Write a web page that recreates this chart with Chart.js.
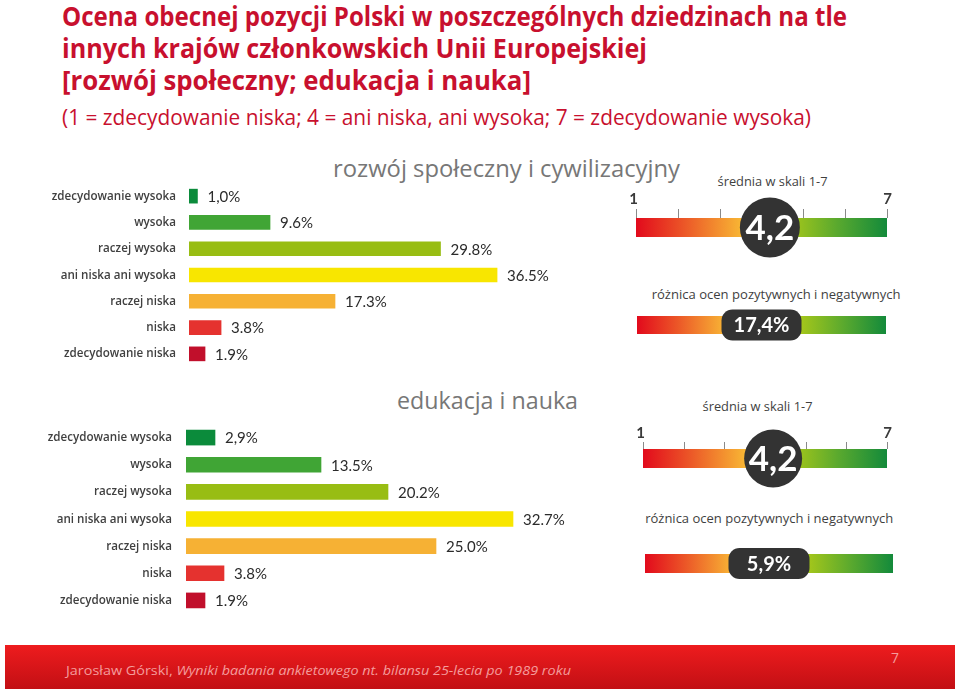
<!DOCTYPE html>
<html><head><meta charset="utf-8">
<script src="https://cdn.jsdelivr.net/npm/chart.js@4.4.1/dist/chart.umd.min.js"></script>
<style>
html,body{margin:0;padding:0;background:#fff;}
#page{position:relative;width:960px;height:691px;overflow:hidden;background:#fff;}
.t{position:absolute;white-space:nowrap;line-height:1;}
.l{transform-origin:0 50%;}
.c{transform-origin:50% 50%;}
canvas{position:absolute;}
#band{position:absolute;left:5px;top:645px;width:950px;height:44px;background:linear-gradient(#ee1c1e,#c20f14);}
</style></head>
<body><div id="page">
<div class="t l" data-x="62" data-y="16" data-w="785" style="font:700 26px 'Open Sans';color:#c8102e">Ocena obecnej pozycji Polski w poszczególnych dziedzinach na tle</div>
<div class="t l" data-x="62" data-y="48" data-w="585" style="font:700 26px 'Open Sans';color:#c8102e">innych krajów członkowskich Unii Europejskiej</div>
<div class="t l" data-x="62" data-y="80" data-w="469" style="font:700 26px 'Open Sans';color:#c8102e">[rozwój społeczny; edukacja i nauka]</div>
<div class="t l" data-x="62" data-y="116" data-w="749" style="font:400 22px 'Open Sans';color:#c8102e">(1 = zdecydowanie niska; 4 = ani niska, ani wysoka; 7 = zdecydowanie wysoka)</div>
<div class="t l" data-x="333" data-y="167" data-w="347" style="font:400 24px 'Open Sans';color:#777777">rozwój społeczny i cywilizacyjny</div>
<div class="t l" data-x="397" data-y="399" data-w="181" style="font:400 24px 'Open Sans';color:#777777">edukacja i nauka</div>
<div class="t c" data-cx="773" data-y="181" data-w="110" style="font:400 12.5px 'Open Sans';color:#3f3f3f">średnia w skali 1-7</div>
<div class="t c" data-cx="776" data-y="294" data-w="249" style="font:400 12.5px 'Open Sans';color:#3f3f3f">różnica ocen pozytywnych i negatywnych</div>
<div class="t c" data-cx="758" data-y="406" data-w="110" style="font:400 12.5px 'Open Sans';color:#3f3f3f">średnia w skali 1-7</div>
<div class="t c" data-cx="769" data-y="518" data-w="248" style="font:400 12.5px 'Open Sans';color:#3f3f3f">różnica ocen pozytywnych i negatywnych</div>
<canvas id="cSocial" width="560" height="184" style="left:0;top:183px"></canvas>
<canvas id="cEdu" width="580" height="190" style="left:0;top:424px"></canvas>
<canvas id="gSocialMean" width="320" height="80" style="left:600px;top:185px"></canvas>
<canvas id="gSocialDiff" width="320" height="50" style="left:600px;top:300px"></canvas>
<canvas id="gEduMean" width="320" height="80" style="left:600px;top:415px"></canvas>
<canvas id="gEduDiff" width="320" height="50" style="left:600px;top:538px"></canvas>
<div id="band"></div>
<div class="t l" data-x="66" data-y="670" data-w="505" style="font:400 13px 'Open Sans';color:#f49c9c">Jarosław Górski, <i>Wyniki badania ankietowego nt. bilansu 25-lecia po 1989 roku</i></div>
<div class="t l" data-x="891" data-y="657" style="font:400 14px 'Open Sans';color:#f49c9c">7</div>
</div>
<script>
const categories = ['zdecydowanie wysoka','wysoka','raczej wysoka','ani niska ani wysoka','raczej niska','niska','zdecydowanie niska'];
const socialValues = [1.0, 9.6, 29.8, 36.5, 17.3, 3.8, 1.9];
const socialLabels = ['1,0%','9.6%','29.8%','36.5%','17.3%','3.8%','1.9%'];
const eduValues = [2.9, 13.5, 20.2, 32.7, 25.0, 3.8, 1.9];
const eduLabels = ['2,9%','13.5%','20.2%','32.7%','25.0%','3.8%','1.9%'];
const barColors = ['#0b8b3b','#40a535','#98bd13','#f8e600','#f6b134','#e5322f','#c10f2b'];
const scaleTicks = [1,2,3,4,5,6,7];
const scaleEndLabels = {1:'1', 7:'7'};
const socialMean = 4.2, socialMeanLabel = '4,2', socialDiffLabel = '17,4%';
const eduMean = 4.2, eduMeanLabel = '4,2', eduDiffLabel = '5,9%';

// text placement
document.querySelectorAll('.t').forEach(el=>{
  const w = el.getBoundingClientRect().width;
  const k = el.dataset.w ? (+el.dataset.w)/w : 1;
  if (el.classList.contains('c')) {
    el.style.left = (+el.dataset.cx - w/2)+'px';
  } else {
    el.style.left = el.dataset.x+'px';
  }
  el.style.top = (+el.dataset.y)+'px';
  el.style.transform = 'translateY(-50%) scaleX('+k+')';
});

function barChart(id, values, labels, o){
  return new Chart(document.getElementById(id), {
    type:'bar',
    data:{labels:categories, datasets:[{data:values, backgroundColor:barColors, barThickness:o.thick, borderWidth:0}]},
    options:{
      indexAxis:'y', responsive:false, animation:false, events:[],
      layout:{padding:{left:o.left, right:0, top:0, bottom:0}},
      scales:{x:{display:false, min:0, max:o.max}, y:{display:false}},
      plugins:{legend:{display:false}, tooltip:{enabled:false}}
    },
    plugins:[{id:'labels', afterDatasetsDraw(chart){
      const ctx = chart.ctx, ys = chart.scales.y, meta = chart.getDatasetMeta(0);
      ctx.save();
      ctx.textBaseline = 'middle';
      ctx.font = '600 12.5px "Open Sans"'; ctx.fillStyle = '#404040'; ctx.textAlign = 'right';
      const rx = chart.chartArea.left - o.gap;
      categories.forEach((c,i)=>{
        ctx.save();
        ctx.translate(rx, ys.getPixelForValue(i));
        ctx.scale(0.93, 1);
        ctx.fillText(c, 0, 0);
        ctx.restore();
      });
      ctx.font = '15px Lato'; ctx.fillStyle = '#2b2b2b'; ctx.textAlign = 'left';
      meta.data.forEach((b,i)=>ctx.fillText(labels[i], b.x + 10, b.y + 1));
      ctx.restore();
    }}]
  });
}
barChart('cSocial', socialValues, socialLabels, {left:189, max:(560-189)/8.44, thick:14, gap:13});
barChart('cEdu', eduValues, eduLabels, {left:186, max:(580-186)/10, thick:15, gap:14});

function grad(chart, stops){
  const a = chart.chartArea;
  if (!a) return stops[0][1];
  const g = chart.ctx.createLinearGradient(a.left, 0, a.right, 0);
  stops.forEach(s=>g.addColorStop(s[0], s[1]));
  return g;
}
const meanStops = [[0,'#e20a1c'],[0.2,'#ec5a28'],[0.42,'#f8b634'],[0.62,'#a3c61b'],[0.8,'#5aa92e'],[1,'#138a3b']];
const diffStops = [[0,'#e20a1c'],[0.17,'#ec5a28'],[0.34,'#f7ae34'],[0.66,'#a3c61b'],[0.83,'#5aa92e'],[1,'#138a3b']];

function roundRect(ctx,x,y,w,h,r){
  ctx.beginPath();
  ctx.moveTo(x+r,y); ctx.lineTo(x+w-r,y); ctx.arcTo(x+w,y,x+w,y+r,r);
  ctx.lineTo(x+w,y+h-r); ctx.arcTo(x+w,y+h,x+w-r,y+h,r);
  ctx.lineTo(x+r,y+h); ctx.arcTo(x,y+h,x,y+h-r,r);
  ctx.lineTo(x,y+r); ctx.arcTo(x,y,x+r,y,r); ctx.closePath();
}

function gauge(id, o){
  return new Chart(document.getElementById(id), {
    type:'bar',
    data:{labels:[''], datasets:[{data:[[1,7]], backgroundColor:c=>grad(c.chart, o.stops), barPercentage:1, categoryPercentage:1, borderWidth:0}]},
    options:{
      indexAxis:'y', responsive:false, animation:false, events:[],
      layout:{padding:o.pad},
      scales:{x:{display:false, min:1, max:7}, y:{display:false}},
      plugins:{legend:{display:false}, tooltip:{enabled:false}}
    },
    plugins:[{id:'marker', afterDatasetsDraw(chart){
      const ctx = chart.ctx, xs = chart.scales.x, a = chart.chartArea;
      const cy = (a.top + a.bottom)/2;
      ctx.save();
      if (o.type === 'mean') {
        ctx.strokeStyle = '#8a8a8a'; ctx.lineWidth = 1;
        scaleTicks.forEach(v=>{
          const x = Math.round(xs.getPixelForValue(v)) + 0.5;
          ctx.beginPath(); ctx.moveTo(x, a.top - o.tick); ctx.lineTo(x, a.top); ctx.stroke();
          if (scaleEndLabels[v]) {
            ctx.font = 'bold 15px Lato'; ctx.fillStyle = '#3a3a3a'; ctx.textAlign = 'center'; ctx.textBaseline = 'middle';
            ctx.fillText(scaleEndLabels[v], x - (v===1?3:0), a.top - o.lab);
          }
        });
        const x = xs.getPixelForValue(o.value);
        ctx.beginPath(); ctx.arc(x, cy, o.r, 0, Math.PI*2); ctx.fillStyle = '#333333'; ctx.fill();
        ctx.font = 'bold 35px Lato'; ctx.fillStyle = '#ffffff'; ctx.textAlign = 'center'; ctx.textBaseline = 'middle';
        ctx.fillText(o.label, x, cy + 1);
      } else {
        const x = xs.getPixelForValue(4);
        roundRect(ctx, x - o.pw/2, cy - 15.5, o.pw, 31, 11); ctx.fillStyle = '#333333'; ctx.fill();
        ctx.font = 'bold 20px Lato'; ctx.fillStyle = '#ffffff'; ctx.textAlign = 'center'; ctx.textBaseline = 'middle';
        ctx.fillText(o.label, x, cy + 1);
      }
      ctx.restore();
    }}]
  });
}
gauge('gSocialMean', {type:'mean', value:socialMean, label:socialMeanLabel, stops:meanStops, pad:{left:36,right:33,top:33,bottom:28}, tick:9, lab:19, r:30});
gauge('gSocialDiff', {type:'diff', label:socialDiffLabel, stops:diffStops, pad:{left:37,right:34,top:16,bottom:16}, pw:80});
gauge('gEduMean', {type:'mean', value:eduMean, label:eduMeanLabel, stops:meanStops, pad:{left:43,right:33,top:34,bottom:27}, tick:7, lab:16, r:29});
gauge('gEduDiff', {type:'diff', label:eduDiffLabel, stops:diffStops, pad:{left:45,right:27,top:16,bottom:15}, pw:81});
</script>
</body></html>
